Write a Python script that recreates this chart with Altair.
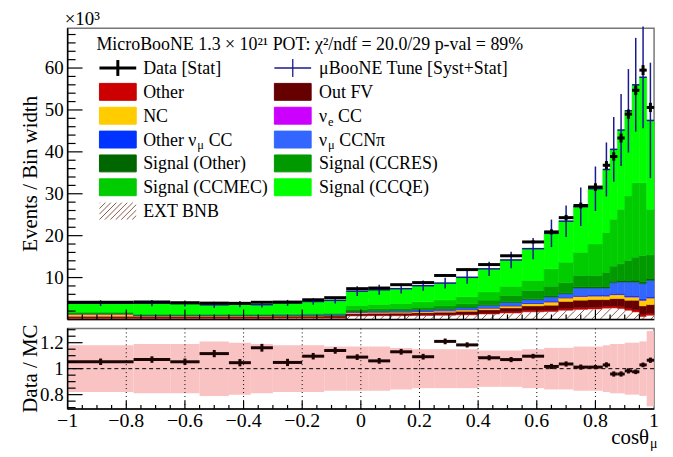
import altair as alt
import numpy as np
import pandas as pd

FONT = "Liberation Serif"

# ---------------- data ----------------
edges = [-1.0, -0.775, -0.65, -0.55, -0.45, -0.375, -0.3, -0.2, -0.125, -0.05,
         0.025, 0.1, 0.175, 0.25, 0.325, 0.4, 0.475, 0.55, 0.625, 0.675,
         0.725, 0.775, 0.825, 0.85, 0.875, 0.9, 0.925, 0.95, 0.975, 1.0]

data_vals = [4.1, 4.15, 4.0, 3.9, 3.85, 4.1, 4.15, 4.7, 5.2, 7.35, 7.5, 8.3, 8.8, 10.5, 11.9,
             13.1, 15.2, 18.5, 20.9, 24.3, 27.2, 31.6, 36.8, 38.9, 43.3, 49.0, 54.7, 59.5, 50.6]
data_err = [0.09, 0.09, 0.09, 0.09, 0.09, 0.09, 0.09, 0.1, 0.11, 0.15, 0.15, 0.17, 0.18, 0.2, 0.22,
            0.24, 0.27, 0.35, 0.6, 0.65, 0.7, 0.9, 1.0, 1.0, 1.05, 1.1, 1.15, 1.2, 1.1]

ext_bnb = [0.25, 0.25, 0.25, 0.25, 0.25, 0.25, 0.3, 0.3, 0.3, 0.85, 0.9, 0.9, 0.95, 1.0, 1.1,
           1.3, 1.55, 1.82, 1.9, 2.2, 2.4, 2.5, 2.7, 2.75, 2.6, 2.2, 1.8, 0.7, 1.0]
other = [0.2, 0.2, 0.2, 0.2, 0.2, 0.2, 0.2, 0.2, 0.2, 0.15, 0.15, 0.15, 0.17, 0.18, 0.2,
         0.25, 0.3, 0.39, 0.35, 0.4, 0.4, 0.45, 0.45, 0.45, 0.45, 0.45, 0.5, 0.5, 0.45]
out_fv = [0.3, 0.3, 0.3, 0.3, 0.3, 0.3, 0.3, 0.3, 0.35, 0.4, 0.42, 0.45, 0.5, 0.55, 0.65,
          0.75, 0.9, 1.03, 1.15, 1.7, 1.8, 1.79, 1.59, 1.78, 1.93, 1.93, 2.28, 2.04, 2.1]
nc = [0.55, 0.15, 0.15, 0.15, 0.15, 0.15, 0.15, 0.15, 0.15, 0.3, 0.3, 0.3, 0.32, 0.35, 0.38,
      0.42, 0.48, 0.55, 0.79, 0.85, 0.9, 0.87, 0.87, 0.94, 0.94, 0.79, 0.79, 1.34, 1.58]
nue_cc = [0.01, 0.01, 0.01, 0.01, 0.01, 0.01, 0.01, 0.01, 0.01, 0.01, 0.01, 0.01, 0.01, 0.01, 0.01,
          0.02, 0.02, 0.02, 0.02, 0.02, 0.03, 0.03, 0.03, 0.03, 0.04, 0.04, 0.04, 0.04, 0.04]
other_numu = [0.03, 0.03, 0.03, 0.03, 0.03, 0.03, 0.03, 0.03, 0.03, 0.04, 0.05, 0.05, 0.06, 0.06, 0.07,
              0.08, 0.1, 0.15, 0.16, 0.12, 0.2, 0.2, 0.2, 0.25, 0.27, 0.3, 0.3, 0.3, 0.3]
numu_ccnpi = [0.08, 0.08, 0.08, 0.08, 0.08, 0.08, 0.08, 0.1, 0.1, 0.15, 0.18, 0.2, 0.25, 0.3, 0.4,
              0.55, 0.7, 0.78, 1.0, 0.85, 1.77, 1.66, 1.66, 2.57, 2.7, 3.22, 3.22, 3.61, 3.85]
sig_other = [0.04, 0.04, 0.04, 0.04, 0.04, 0.04, 0.04, 0.05, 0.05, 0.08, 0.08, 0.1, 0.1, 0.12, 0.13,
             0.15, 0.17, 0.2, 0.25, 0.25, 0.3, 0.3, 0.35, 0.35, 0.4, 0.4, 0.45, 0.45, 0.45]
sig_ccres = [0.1, 0.1, 0.1, 0.1, 0.1, 0.1, 0.1, 0.12, 0.12, 0.4, 0.45, 0.5, 0.55, 0.65, 0.8,
             1.1, 1.5, 1.96, 2.3, 2.4, 2.71, 2.71, 3.4, 3.6, 3.94, 4.73, 5.47, 6.26, 5.63]
sig_ccmec = [0.2, 0.15, 0.15, 0.15, 0.15, 0.15, 0.15, 0.2, 0.2, 0.95, 1.05, 1.15, 1.3, 1.45, 1.7,
             1.95, 2.2, 2.42, 4.17, 4.88, 5.53, 7.5, 9.52, 11.21, 13.03, 15.4, 17.77, 17.38, 10.9]
sig_ccqe = [2.13, 2.57, 2.49, 2.18, 2.37, 2.22, 2.6, 2.83, 3.05, 3.42, 3.49, 3.54, 3.85, 4.01, 4.62,
            5.51, 6.28, 7.58, 8.46, 9.79, 10.86, 13.19, 15.03, 16.67, 18.9, 20.34, 23.38, 25.18, 21.2]

# relative MC uncertainty (syst+stat), as seen from the ratio band
mc_band = [0.18, 0.19, 0.19, 0.21, 0.20, 0.19, 0.18, 0.18, 0.17, 0.17, 0.17, 0.16, 0.15, 0.15, 0.15,
           0.14, 0.14, 0.15, 0.16, 0.16, 0.17, 0.17, 0.18, 0.19, 0.19, 0.20, 0.20, 0.21, 0.29]

ratio_vals = [1.053, 1.07, 1.053, 1.116, 1.046, 1.161, 1.048, 1.096, 1.14, 1.089, 1.06, 1.13, 1.092,
              1.21, 1.183, 1.084, 1.07, 1.096, 1.017, 1.036, 1.012, 1.012, 1.029, 0.959, 0.959,
              0.983, 0.976, 1.029, 1.065]
ratio_err = [0.025, 0.025, 0.025, 0.028, 0.028, 0.03, 0.028, 0.025, 0.025, 0.022, 0.022, 0.022, 0.022,
             0.022, 0.02, 0.02, 0.02, 0.018, 0.02, 0.02, 0.02, 0.016, 0.02, 0.02, 0.02, 0.02, 0.018,
             0.018, 0.02]

comp_names = ["EXT BNB", "Other", "Out FV", "NC", "νe CC", "Other νμ CC", "νμ CCNπ",
              "Signal (Other)", "Signal (CCRES)", "Signal (CCMEC)", "Signal (CCQE)"]
comp_colors = ["#ffffff", "#cc0000", "#660000", "#ffcc00", "#cc00ff", "#0033ff", "#3366ff",
               "#006600", "#009900", "#00cc00", "#00ff00"]
comps = [ext_bnb, other, out_fv, nc, nue_cc, other_numu, numu_ccnpi,
         sig_other, sig_ccres, sig_ccmec, sig_ccqe]

x_major = [-1.0, -0.8, -0.6, -0.4, -0.2, 0.0, 0.2, 0.4, 0.6, 0.8, 1.0]
x_labels = ["−1", "−0.8", "−0.6", "−0.4", "−0.2", "0", "0.2", "0.4", "0.6", "0.8", "1"]
y_major = [10, 20, 30, 40, 50, 60]
y_labels = ["10", "20", "30", "40", "50", "60"]
r_major = [0.8, 1.0, 1.2]
r_labels = ["0.8", "1", "1.2"]

# ---------------- layout ----------------
W, H, H2 = 590, 293, 81
YMAX = 69.5
RLO, RHI = 0.69, 1.31
SX = W / 2.0
SY = H / YMAX


def px2x(p):
    return -1.0 + p / SX


def py2y(p):
    return YMAX * (1.0 - p / H)


def py2r(p):
    return RHI - (RHI - RLO) * p / H2


xs = alt.Scale(domain=[-1, 1], nice=False, zero=False)
ys = alt.Scale(domain=[0, YMAX], nice=False, zero=False)
rs = alt.Scale(domain=[RLO, RHI], nice=False, zero=False)

nb = len(data_vals)
lo = np.array(edges[:-1])
hi = np.array(edges[1:])
mid = (lo + hi) / 2

# stacked histogram
rows = []
totals = []
for j in range(nb):
    base = 0.0
    for name, arr in zip(comp_names, comps):
        v = arr[j]
        rows.append(dict(comp=name, x1=lo[j], x2=hi[j], y1=base, y2=base + v))
        base += v
    totals.append(base)
stack_df = pd.DataFrame(rows)
totals = np.array(totals)

bins_df = pd.DataFrame(dict(lo=lo, hi=hi, mid=mid, data=data_vals,
                            dlo=np.array(data_vals) - np.array(data_err),
                            dhi=np.array(data_vals) + np.array(data_err),
                            mc=totals,
                            mlo=totals * (1 - np.array(mc_band)),
                            mhi=totals * (1 + np.array(mc_band)),
                            blo=1 - np.array(mc_band), bhi=1 + np.array(mc_band),
                            r=ratio_vals,
                            rlo=np.array(ratio_vals) - np.array(ratio_err),
                            rhi=np.array(ratio_vals) + np.array(ratio_err)))

# hatch for EXT BNB (45 deg lines in pixel space)
hatch = []
sp = 8.5
for j in range(nb):
    h = ext_bnb[j] * SY
    l = (lo[j] + 1) * SX
    r = (hi[j] + 1) * SX
    for k in range(int(np.floor((l - h) / sp)) - 1, int(np.ceil(r / sp)) + 1):
        x0 = k * sp
        t0 = max(0.0, l - x0)
        t1 = min(h, r - x0)
        if t1 - t0 > 0.4:
            hatch.append(dict(hx1=px2x(x0 + t0), hy1=t0 / SY, hx2=px2x(x0 + t1), hy2=t1 / SY))
hatch_df = pd.DataFrame(hatch)

fill_scale = alt.Scale(domain=comp_names, range=comp_colors)


def X(f):
    return alt.X(f, scale=xs, axis=None)


def Y(f):
    return alt.Y(f, scale=ys, axis=None)


def R(f):
    return alt.Y(f, scale=rs, axis=None)


stack = alt.Chart(stack_df).mark_rect(strokeWidth=0.5).encode(
    x=X("x1:Q"), x2="x2:Q", y=Y("y1:Q"), y2="y2:Q",
    fill=alt.Fill("comp:N", scale=fill_scale, legend=None),
    stroke=alt.Stroke("comp:N", scale=fill_scale, legend=None),
)

hatch_layer = alt.Chart(hatch_df).mark_rule(color="#8b5a4b", strokeWidth=1).encode(
    x=X("hx1:Q"), x2="hx2:Q", y=Y("hy1:Q"), y2="hy2:Q")

mc_h = alt.Chart(bins_df).mark_rule(color="#1a1a90", strokeWidth=1.5).encode(
    x=X("lo:Q"), x2="hi:Q", y=Y("mc:Q"))
mc_v = alt.Chart(bins_df).mark_rule(color="#1a1a90", strokeWidth=1.5).encode(
    x=X("mid:Q"), y=Y("mlo:Q"), y2="mhi:Q")

d_h = alt.Chart(bins_df).mark_rule(color="black", strokeWidth=3).encode(
    x=X("lo:Q"), x2="hi:Q", y=Y("data:Q"))
d_v = alt.Chart(bins_df).mark_rule(color="black", strokeWidth=3).encode(
    x=X("mid:Q"), y=Y("dlo:Q"), y2="dhi:Q")


def yticks(vals, length, yenc):
    return alt.Chart(pd.DataFrame({"v": vals})).mark_rule(color="black", strokeWidth=1.2).encode(
        y=yenc("v:Q"), x=alt.value(0), x2=alt.value(length))


def xticks(vals, length, h):
    return alt.Chart(pd.DataFrame({"v": vals})).mark_rule(color="black", strokeWidth=1.2).encode(
        x=X("v:Q"), y=alt.value(h), y2=alt.value(h - length))


def frame(h):
    left = alt.Chart(pd.DataFrame({"a": [0]})).mark_rule(color="black", strokeWidth=1.5).encode(
        x=alt.value(0), y=alt.value(0), y2=alt.value(h))
    bot = alt.Chart(pd.DataFrame({"a": [0]})).mark_rule(color="black", strokeWidth=1.5).encode(
        x=alt.value(0), x2=alt.value(W), y=alt.value(h))
    return [left, bot]


def ylabels(vals, labs, yenc, fs):
    df = pd.DataFrame({"v": vals, "t": labs, "x": [px2x(-4)] * len(vals)})
    return alt.Chart(df).mark_text(align="right", baseline="middle", font=FONT, fontSize=fs,
                                   color="black").encode(x=X("x:Q"), y=yenc("v:Q"), text="t:N")


x_minor = [round(-1 + 0.05 * i, 3) for i in range(41) if i % 4 != 0]
y_minor = [v for v in range(2, 70, 2) if v % 10 != 0]
r_minor = [0.7, 0.75, 0.85, 0.9, 0.95, 1.05, 1.1, 1.15, 1.25, 1.3]

# ---------------- legend ----------------
LFS = 18
SUB = 12.5
CW = {" ": 0.25, "O": 0.722, "t": 0.278, "h": 0.5, "e": 0.444, "r": 0.333, "C": 0.667,
      "N": 0.722, "ν": 0.5, "μ": 0.55, "π": 0.55, "c": 0.444, "o": 0.5, "s": 0.389, "θ": 0.5}


def tw(s, fs):
    return sum(CW.get(ch, 0.5) for ch in s) * fs


row_y = [40, 64, 88, 112, 136, 160, 184]
col_sw = [32, 208]
col_tx = [76, 253]
entries = [
    (0, 1, "Other"), (0, 2, "NC"), (0, 3, [("Other ν", 0), ("μ", 1), (" CC", 0)]),
    (0, 4, "Signal (Other)"), (0, 5, "Signal (CCMEC)"), (0, 6, "EXT BNB"),
    (1, 1, "Out FV"), (1, 2, [("ν", 0), ("e", 1), (" CC", 0)]),
    (1, 3, [("ν", 0), ("μ", 1), (" CCNπ", 0)]),
    (1, 4, "Signal (CCRES)"), (1, 5, "Signal (CCQE)"),
    (0, 0, "Data [Stat]"), (1, 0, "μBooNE Tune [Syst+Stat]"),
]
txt_rows = []
sw_rows = []
for col, row, lab in entries:
    yc = row_y[row]
    x0 = col_tx[col]
    segs = [(lab, 0)] if isinstance(lab, str) else lab
    for s, sub in segs:
        fs = SUB if sub else LFS
        lead = len(s) - len(s.lstrip(" "))
        xx = x0 + tw(" " * lead, fs)
        txt_rows.append(dict(x=px2x(xx), y=py2y(yc + (10 if sub else 6)), t=s.strip(), fs=fs))
        x0 += tw(s, fs)
    name = lab if isinstance(lab, str) else "".join(p for p, _ in lab)
    if name in comp_names:
        c = comp_colors[comp_names.index(name)]
        sw_rows.append(dict(x1=px2x(col_sw[col]), x2=px2x(col_sw[col] + 37),
                            y1=py2y(yc - 8.5), y2=py2y(yc + 8.5),
                            c=c if name != "EXT BNB" else "#ffffff"))
txt_rows.append(dict(x=px2x(29), y=py2y(22), t="MicroBooNE 1.3 × 10²¹ POT: χ²/ndf = 20.0/29 p-val = 89%", fs=LFS))
txt_df = pd.DataFrame(txt_rows)
sw_df = pd.DataFrame(sw_rows)

leg_text = alt.Chart(txt_df).mark_text(align="left", baseline="alphabetic", font=FONT,
                                        color="black").encode(
    x=X("x:Q"), y=Y("y:Q"), text="t:N", size=alt.Size("fs:Q", scale=None))
leg_sw = alt.Chart(sw_df).mark_rect().encode(
    x=X("x1:Q"), x2="x2:Q", y=Y("y1:Q"), y2="y2:Q",
    fill=alt.Fill("c:N", scale=None), stroke=alt.Stroke("c:N", scale=None))

# legend hatch for EXT BNB swatch
lh = []
bx0, bx1 = col_sw[0], col_sw[0] + 37
by0, by1 = row_y[6] - 8.5, row_y[6] + 8.5
hh = by1 - by0
for k in range(-4, 10):
    x0 = bx0 + k * 5.5
    t0 = max(0.0, bx0 - x0)
    t1 = min(hh, bx1 - x0)
    if t1 - t0 > 0.4:
        lh.append(dict(hx1=px2x(x0 + t0), hy1=py2y(by1 - t0), hx2=px2x(x0 + t1), hy2=py2y(by1 - t1)))
leg_hatch = alt.Chart(pd.DataFrame(lh)).mark_rule(color="#8b5a4b", strokeWidth=1).encode(
    x=X("hx1:Q"), x2="hx2:Q", y=Y("hy1:Q"), y2="hy2:Q")

sym_df = pd.DataFrame([
    dict(x1=px2x(32), x2=px2x(69), y1=py2y(40), y2=py2y(40), k="d"),
    dict(x1=px2x(50.5), x2=px2x(50.5), y1=py2y(32), y2=py2y(48), k="d"),
    dict(x1=px2x(208), x2=px2x(245), y1=py2y(40), y2=py2y(40), k="m"),
    dict(x1=px2x(226.5), x2=px2x(226.5), y1=py2y(31), y2=py2y(49), k="m"),
])
sym_d = alt.Chart(sym_df[sym_df.k == "d"]).mark_rule(color="black", strokeWidth=3).encode(
    x=X("x1:Q"), x2="x2:Q", y=Y("y1:Q"), y2="y2:Q")
sym_m = alt.Chart(sym_df[sym_df.k == "m"]).mark_rule(color="#1a1a90", strokeWidth=1.3).encode(
    x=X("x1:Q"), x2="x2:Q", y=Y("y1:Q"), y2="y2:Q")

ytitle = alt.Chart(pd.DataFrame([dict(x=px2x(-37), y=py2y(H / 2), t="Events / Bin width")])).mark_text(
    angle=270, align="center", baseline="middle", font=FONT, fontSize=21, color="black").encode(
    x=X("x:Q"), y=Y("y:Q"), text="t:N")
x1000 = alt.Chart(pd.DataFrame([dict(x=px2x(-3), y=py2y(-3), t="×10³")])).mark_text(
    align="left", baseline="alphabetic", font=FONT, fontSize=19, color="black").encode(
    x=X("x:Q"), y=Y("y:Q"), text="t:N")

top = alt.layer(
    stack, hatch_layer, mc_h, mc_v, d_h, d_v,
    yticks(y_major, 15, Y), yticks(y_minor, 8, Y),
    xticks(x_major[1:-1], 10, H), xticks(x_minor, 5, H),
    *frame(H), ylabels(y_major, y_labels, Y, 19),
    leg_sw, leg_hatch, sym_d, sym_m, leg_text, ytitle, x1000,
).properties(width=W, height=H)

# ---------------- ratio panel ----------------
band = alt.Chart(bins_df).mark_rect(color="#f8bcbc", opacity=0.9).encode(
    x=X("lo:Q"), x2="hi:Q", y=R("blo:Q"), y2="bhi:Q")
grid = alt.Chart(pd.DataFrame({"v": x_major[1:-1]})).mark_rule(
    color="black", strokeWidth=1, strokeDash=[1, 3]).encode(x=X("v:Q"))
one = alt.Chart(pd.DataFrame({"v": [1.0]})).mark_rule(
    color="black", strokeWidth=1, strokeDash=[4, 3]).encode(y=R("v:Q"))
r_h = alt.Chart(bins_df).mark_rule(color="#1c0505", strokeWidth=3).encode(
    x=X("lo:Q"), x2="hi:Q", y=R("r:Q"))
r_v = alt.Chart(bins_df).mark_rule(color="#1c0505", strokeWidth=3).encode(
    x=X("mid:Q"), y=R("rlo:Q"), y2="rhi:Q")

xl_df = pd.DataFrame({"v": x_major, "t": x_labels, "y": [py2r(H2 + 12)] * len(x_major)})
xlabels = alt.Chart(xl_df).mark_text(align="center", baseline="middle", font=FONT, fontSize=20,
                                     color="black").encode(x=X("v:Q"), y=R("y:Q"), text="t:N")

rtitle = alt.Chart(pd.DataFrame([dict(x=px2x(-37), y=py2r(H2 / 2), t="Data / MC")])).mark_text(
    angle=270, align="center", baseline="middle", font=FONT, fontSize=21, color="black").encode(
    x=X("x:Q"), y=R("y:Q"), text="t:N")
xtitle = alt.Chart(pd.DataFrame([dict(x=px2x(585), y=py2r(H2 + 35), t="cosθ")])).mark_text(
    align="right", baseline="alphabetic", font=FONT, fontSize=21, color="black").encode(
    x=X("x:Q"), y=R("y:Q"), text="t:N")
xtitle_sub = alt.Chart(pd.DataFrame([dict(x=px2x(586), y=py2r(H2 + 39), t="μ")])).mark_text(
    align="left", baseline="alphabetic", font=FONT, fontSize=14, color="black").encode(
    x=X("x:Q"), y=R("y:Q"), text="t:N")

bottom = alt.layer(
    band, grid, one, r_h, r_v,
    yticks(r_major, 15, R), yticks(r_minor, 8, R),
    xticks(x_major[1:-1], 8, H2), xticks(x_minor, 4, H2),
    *frame(H2), ylabels(r_major, r_labels, R, 19), xlabels,
    rtitle, xtitle, xtitle_sub,
).properties(width=W, height=H2)

chart = alt.vconcat(top, bottom, spacing=9, bounds="flush").configure(
    padding={"left": 11, "top": 0, "right": 5, "bottom": 2}, background="white"
).configure_view(stroke="#777777", strokeWidth=1.5)

chart.save("out.html", embed_options={"renderer": "svg", "actions": False})
